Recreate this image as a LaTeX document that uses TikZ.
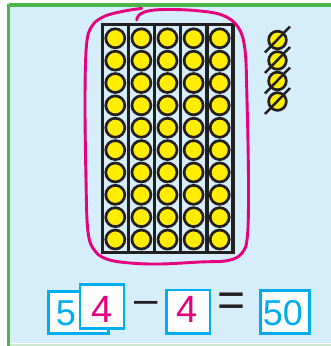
\documentclass[tikz,border=0pt]{standalone}
\usepackage{fontspec}
\setmainfont{Liberation Sans}
\definecolor{bgblue}{RGB}{214,237,250}
\definecolor{framegreen}{RGB}{76,183,72}
\definecolor{palegreen}{RGB}{205,232,210}
\definecolor{beadyellow}{RGB}{255,237,0}
\definecolor{inkdark}{RGB}{35,31,32}
\definecolor{loopink}{RGB}{230,0,126}
\definecolor{cyanc}{RGB}{0,174,239}
\tikzset{
  bead/.style={circle, draw=inkdark, fill=beadyellow, line width=2.7pt, minimum size=19pt, inner sep=0pt},
  gridline/.style={draw=inkdark, line width=3.2pt},
  loopline/.style={draw=loopink, line width=2.9pt, line cap=round, line join=round},
  slash/.style={draw=inkdark, line width=2.5pt},
  eqbox/.style={draw=cyanc, fill=white, line width=2.7pt, inner sep=0pt},
  cyandigit/.style={text=cyanc, font=\fontsize{36}{36}\selectfont, inner sep=0pt, anchor=base},
  pinkdigit/.style={text=loopink, font=\fontsize{38}{38}\selectfont, inner sep=0pt, anchor=base},
  opsign/.style={text=inkdark, inner sep=0pt}
}
\begin{document}
\begin{tikzpicture}[x=1pt,y=-1pt]
\useasboundingbox (0,0) rectangle (331,346);
\fill[white] (0,0) rectangle (331,346);
\fill[bgblue] (9,5) rectangle (331,343);
\draw[palegreen, line width=2pt] (9,344.5) -- (331,344.5);
\draw[framegreen, line width=3.2pt] (8.5,5) -- (331,5);
\draw[framegreen, line width=2.8pt] (8.5,3.5) -- (8.5,346);

% ten-frame grid
\coordinate (gtl) at (102.5,24.7);
\coordinate (gbr) at (233,252.3);
\foreach \c in {0,...,4}{
  \foreach \r in {0,...,9}{
    \node[bead] (b-\r-\c) at ({115.3+26.1*\c},{38.3+22.36*\r}) {};
  }
}
\draw[gridline] (gtl) rectangle (gbr);
\foreach \c in {1,...,4}{
  \draw[gridline] ({102.5+26.1*\c},24.7) -- ({102.5+26.1*\c},252.3);
}

% loop
\draw[loopline] plot[smooth, tension=0.6] coordinates {
 (141.7,8.3) (122,11.5) (104,16.5) (92,26) (86.5,45) (85,100) (86,180) (88,232)
 (95,251) (108,259.5) (130,263) (160,264) (200,262) (228,260.5) (242,253)
 (247.5,235) (248.5,180) (247,100) (245,50) (238,27) (222,15) (195,10.5)
 (165,9.5) (148,11) (139,15) (136.7,20)};

% crossed out beads
\foreach \i/\y in {1/40,2/60.5,3/81,4/101.5}{
  \node[bead, minimum size=17.7pt] (x\i) at (277.5,\y) {};
  \draw[slash] ([shift={(-12.5,12.5)}]x\i.center) -- ([shift={(12.5,-13.5)}]x\i.center);
}

% equation
\node[eqbox, minimum width=60pt, minimum height=41.5pt] (box5) at (78.3,312.5) {};
\node[cyandigit] (d5) at (66,325) {5};
\node[eqbox, minimum width=44pt, minimum height=44pt] (box4a) at (102,306.2) {};
\node[pinkdigit] (d4a) at (101.8,322.7) {4};
\node[opsign, font=\fontsize{42}{42}\selectfont] (minus) at (145.7,307.3) {–};
\node[eqbox, minimum width=43.3pt, minimum height=43.3pt] (box4b) at (188.3,311.7) {};
\node[pinkdigit] (d4b) at (187.5,322.7) {4};
\node[opsign, font=\fontsize{48}{48}\selectfont] (equals) at (231.3,304.3) {=};
\node[eqbox, minimum width=49pt, minimum height=42.6pt] (box50) at (284.7,312) {};
\node[cyandigit] (d50) at (283,325) {50};
\end{tikzpicture}
\end{document}
